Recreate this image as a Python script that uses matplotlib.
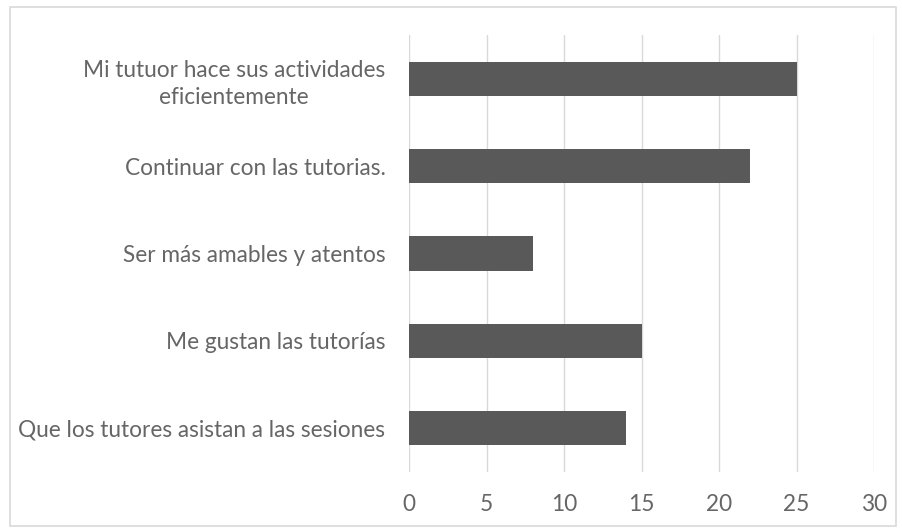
import matplotlib
matplotlib.use("Agg")
import matplotlib.pyplot as plt
from matplotlib.patches import Rectangle

categorias = ["Que los tutores asistan a las sesiones",
              "Me gustan las tutorías",
              "Ser más amables y atentos",
              "Continuar con las tutorias.",
              "Mi tutuor hace sus actividades\neficientemente"]
valores = [14, 15, 8, 22, 25]
ticks_x = [0, 5, 10, 15, 20, 25, 30]

plt.rcParams['font.family'] = ['Lato', 'DejaVu Sans']

fig = plt.figure(figsize=(9.02, 5.29), dpi=100)
W, H = 902, 529
ax = fig.add_axes([409 / W, 1 - 472 / H, (874 - 409) / W, (472 - 35) / H])

# borde gris del gráfico
fig.patches.append(Rectangle((10 / W, 1 - 526 / H), 886 / W, 519 / H,
                             transform=fig.transFigure, fill=False,
                             edgecolor='#d9d9d9', lw=1.2))

pos = range(len(categorias))
ax.barh(pos, valores, height=0.39, color='#595959', zorder=3)

ax.set_xlim(0, 30)
ax.set_ylim(-0.5, len(categorias) - 0.5)
ax.set_xticks(ticks_x)
ax.set_yticks(list(pos))
ax.set_yticklabels(categorias, multialignment='center', linespacing=1.4)
ax.xaxis.grid(True, color='#d9d9d9', lw=1)
ax.set_axisbelow(True)
for s in ax.spines.values():
    s.set_visible(False)
ax.tick_params(axis='both', length=0, colors='#666666', labelsize=16.3)
ax.tick_params(axis='x', pad=16)
ax.tick_params(axis='y', pad=17)

fig.savefig("out.png", dpi=100)
